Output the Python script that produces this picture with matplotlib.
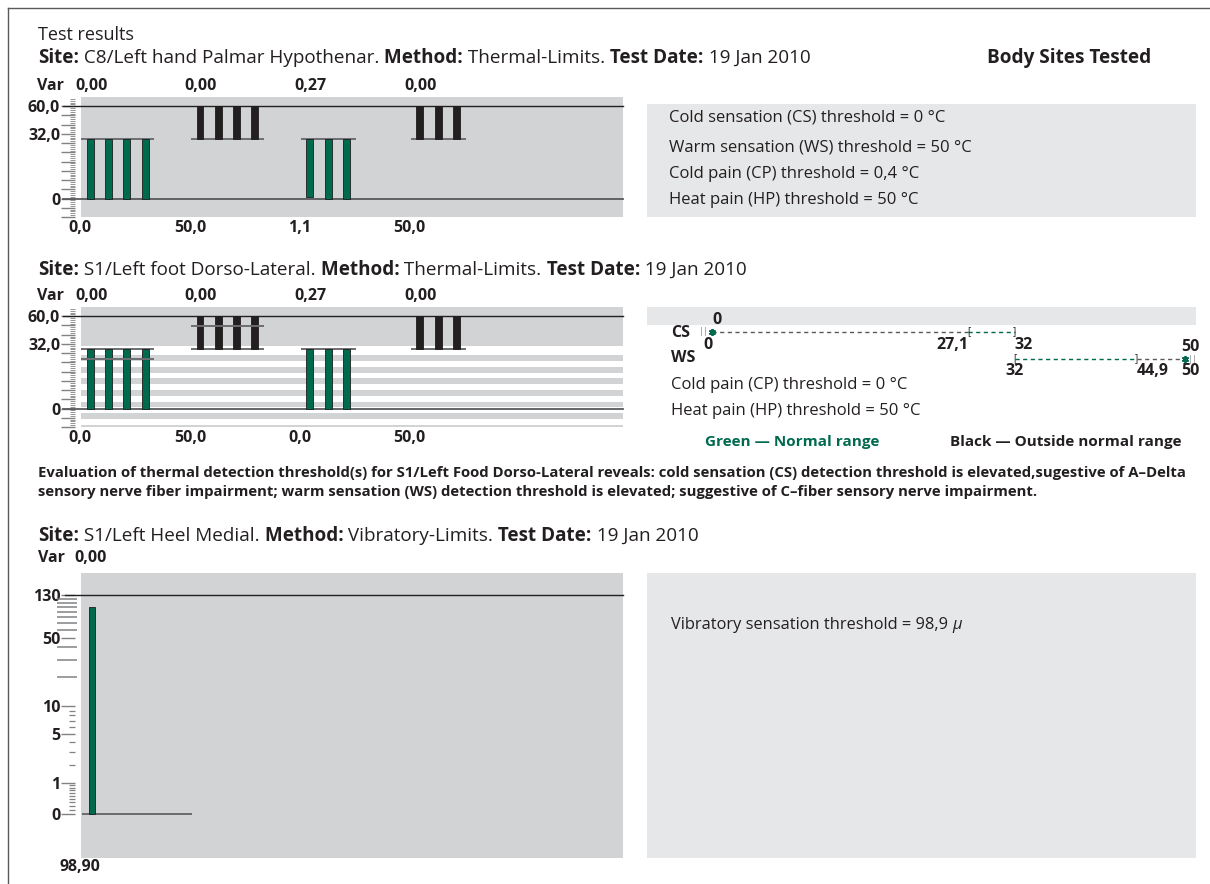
import numpy as np
import matplotlib.pyplot as plt
from matplotlib.patches import Rectangle
from matplotlib.lines import Line2D
from matplotlib.transforms import blended_transform_factory, ScaledTranslation

plt.rcParams['font.family'] = ['Open Sans', 'DejaVu Sans']

W, H = 1210, 884
INK = '#231f20'
GREEN = '#006a4e'
GRAY_PANEL = '#d1d3d4'
GRAY_BOX = '#e6e7e8'
TICK = '#808285'
LINE = '#58595b'

# ---------- data ----------
test_date = '19 Jan 2010'
sites = ['C8/Left hand Palmar Hypothenar.', 'S1/Left foot Dorso-Lateral.', 'S1/Left Heel Medial.']
methods = ['Thermal-Limits.', 'Thermal-Limits.', 'Vibratory-Limits.']

baseline_temp = 32.0
# trial end temperatures per group: CS, WS, CP, HP
trials_1 = [[0.0, 0.0, 0.0, 0.0], [50.0, 50.0, 50.0, 50.0], [1.1, 0.0, 0.0], [50.0, 50.0, 50.0]]
var_1 = ['0,00', '0,00', '0,27', '0,00']
trials_2 = [[0.0, 0.0, 0.0, 0.0], [50.0, 50.0, 50.0, 50.0], [0.0, 0.0, 0.0], [50.0, 50.0, 50.0]]
var_2 = ['0,00', '0,00', '0,27', '0,00']
normal_limits_2 = [27.1, 44.9, None, None]
group_colors = [GREEN, INK, GREEN, INK]

thermal_ticks = [0, 35, 50]
thermal_tick_labels = ['0', '32,0', '60,0']

summary_1 = ['Cold sensation (CS) threshold = 0 °C',
             'Warm sensation (WS) threshold = 50 °C',
             'Cold pain (CP) threshold = 0,4 °C',
             'Heat pain (HP) threshold = 50 °C']

cs_threshold = 0.0
cs_normal = [27.1, 32.0]
ws_threshold = 50.0
ws_normal = [32.0, 44.9]
summary_2 = ['Cold pain (CP) threshold = 0 °C',
             'Heat pain (HP) threshold = 50 °C']

evaluation = ['Evaluation of thermal detection threshold(s) for S1/Left Food Dorso-Lateral reveals: '
              'cold sensation (CS) detection threshold is elevated,sugestive of A\u2013Delta',
              'sensory nerve fiber impairment; warm sensation (WS) detection threshold is elevated; '
              'suggestive of C\u2013fiber sensory nerve impairment.']

vib_value = 98.9
vib_var = '0,00'
vib_ticks = [0, 1, 5, 10, 50, 130]
vib_minor = [0.1, 0.2, 0.3, 0.4, 0.5, 0.6, 0.7, 0.8, 0.9, 2, 3, 4, 6, 7, 8, 9]
vib_mid = [20, 30, 40, 60, 70, 80, 90, 100, 110, 120]


def fmt1(v):
    return f'{v:.1f}'.replace('.', ',')


def fmtg(v):
    return f'{v:g}'.replace('.', ',')


fig = plt.figure(figsize=(W / 100, H / 100), dpi=100)
renderer = fig.canvas.get_renderer()


def put(x, y, s, size=12, weight='normal', color=INK, ha='left', style='normal'):
    return fig.text(x / W, 1 - y / H, s, fontsize=size, fontweight=weight, color=color,
                    ha=ha, va='baseline', fontstyle=style)


def rich(x, y, parts, size=13.6):
    for s, w, st in parts:
        t = put(x, y, s, size, w, style=st)
        x += t.get_window_extent(renderer).width


def box(x0, y0, x1, y1, color):
    fig.add_artist(Rectangle((x0 / W, 1 - y1 / H), (x1 - x0) / W, (y1 - y0) / H,
                             transform=fig.transFigure, color=color, lw=0, zorder=0))


def axes_px(x0, y0, x1, y1):
    return fig.add_axes([x0 / W, 1 - y1 / H, (x1 - x0) / W, (y1 - y0) / H])


def header(y, i):
    rich(38, y, [('Site:', 'bold', 'normal'), (' ' + sites[i], 'normal', 'normal'),
                 (' Method:', 'bold', 'normal'), (' ' + methods[i], 'normal', 'normal'),
                 (' Test Date:', 'bold', 'normal'), (' ' + test_date, 'normal', 'normal')])


def style_left_axis(ax):
    for s in ax.spines.values():
        s.set_visible(False)
    ax.spines['left'].set_position(('outward', 4))
    ax.set_xticks([])
    ax.tick_params(axis='y', which='major', length=10, width=1, color=TICK, pad=1,
                   labelsize=11.5, labelcolor=INK)
    ax.tick_params(axis='y', which='minor', length=3.5, width=0.6, color=TICK)
    for lab in ax.get_yticklabels():
        lab.set_fontweight('bold')


def thermal_panel(top, trials, variances, normal_limits=None, striped=False):
    ax = axes_px(81, top, 623, top + 120)
    ax.set_xlim(-0.5, 29.1)
    ax.set_ylim(-10, 55)
    if striped:
        ax.axhspan(34, 55, color=GRAY_PANEL, lw=0, zorder=0)
        for t in np.arange(29, -12, -6.3):
            ax.axhspan(t - 3.2, t, color=GRAY_PANEL, lw=0, zorder=0)
    else:
        ax.set_facecolor(GRAY_PANEL)

    tr = blended_transform_factory(ax.transData, fig.transFigure)
    for g, vals in enumerate(trials):
        x0 = 6 * g
        xs = x0 + np.arange(len(vals))
        ax.bar(xs, np.array(vals) - baseline_temp, bottom=baseline_temp, width=0.38,
               color=group_colors[g], edgecolor='#1d1d1b', lw=0.6, zorder=3)
        ax.hlines(baseline_temp, x0 - 0.5, x0 + len(vals) - 0.5, color='#6d6e71', lw=1.4, zorder=2)
        if normal_limits and normal_limits[g] is not None:
            ax.hlines(normal_limits[g], x0 - 0.5, x0 + len(vals) - 0.5, color='#6d6e71',
                      lw=1.4, zorder=4)
        ax.text(x0 + 0.05, 1 - (top - 7) / H, variances[g], transform=tr, ha='center',
                va='baseline', fontsize=11.5, fontweight='bold', color=INK)
        ax.text(x0 - 0.55, 1 - (top + 135) / H, fmt1(vals[0]), transform=tr, ha='center',
                va='baseline', fontsize=11.5, fontweight='bold', color=INK)
    put(37, top - 7, 'Var', size=11.5, weight='bold')

    ax.axhline(50, xmin=-0.033, xmax=1, color=INK, lw=1, clip_on=False, zorder=2)
    ax.axhline(0, xmin=-0.033, xmax=1, color=LINE, lw=1.3, clip_on=False, zorder=2)

    major = np.arange(-10, 51, 5)
    labels = dict(zip(thermal_ticks, thermal_tick_labels))
    ax.set_yticks(major)
    ax.set_yticklabels([labels.get(int(v), '') for v in major])
    ax.set_yticks(np.arange(-10, 55, 1), minor=True)
    style_left_axis(ax)
    return ax


# ---------- frame and titles ----------
fig.add_artist(Line2D([8 / W, 8 / W], [0, 1 - 8 / H], color='#58595b', lw=1))
fig.add_artist(Line2D([8 / W, 1], [1 - 8 / H, 1 - 8 / H], color='#58595b', lw=1))

put(38, 40, 'Test results', size=13)
header(63, 0)
put(987, 63, 'Body Sites Tested', size=13.7, weight='bold')

# ---------- panel 1 ----------
thermal_panel(97, trials_1, var_1)
box(647, 104, 1196, 217, GRAY_BOX)
for s, y in zip(summary_1, [122, 152, 178, 204]):
    put(669, y, s)

# ---------- panel 2 ----------
header(275, 1)
thermal_panel(307, trials_2, var_2, normal_limits_2, striped=True)

axr = axes_px(647, 300, 1196, 455)
axr.axis('off')
axr.set_xlim(-6.87, 51.16)
axr.set_ylim(455, 300)
axr.axhspan(307, 325, color=GRAY_BOX, lw=0, zorder=0)
dash = (0, (3, 2.5))


def shift(dx):
    return axr.transData + ScaledTranslation(dx / 100, 0, fig.dpi_scale_trans)


# CS row
y = 332
axr.plot([cs_threshold, cs_normal[0]], [y, y], color=LINE, ls=dash, lw=1)
axr.plot(cs_normal, [y, y], color=GREEN, ls=dash, lw=1)
axr.text(cs_normal[0], y, '[', ha='center', va='center', fontsize=7, color=INK)
axr.text(cs_normal[1], y, ']', ha='center', va='center', fontsize=7, color=INK)
axr.text(cs_threshold, y, '||', ha='right', va='center', fontsize=6.5, color=TICK,
         transform=shift(-3))
axr.plot(cs_threshold, y, marker=(6, 2, 0), ms=5, mew=1.3, color=GREEN)
axr.text(cs_threshold, 320, fmtg(cs_threshold), ha='left', va='center', fontsize=11.5,
         fontweight='bold', color=INK)
axr.text(cs_threshold, 345, fmtg(cs_threshold), ha='center', va='center', fontsize=11.5,
         fontweight='bold', color=INK, transform=shift(-4))
axr.text(cs_normal[0], 345, fmtg(cs_normal[0]), ha='right', va='center', fontsize=11.5,
         fontweight='bold', color=INK)
axr.text(cs_normal[1], 345, fmtg(cs_normal[1]), ha='left', va='center', fontsize=11.5,
         fontweight='bold', color=INK)

# WS row
y = 359
axr.plot(ws_normal, [y, y], color=GREEN, ls=dash, lw=1)
axr.plot([ws_normal[1], ws_threshold], [y, y], color=LINE, ls=dash, lw=1)
axr.text(ws_normal[0], y, '[', ha='center', va='center', fontsize=7, color=INK)
axr.text(ws_normal[1], y, ']', ha='center', va='center', fontsize=7, color=INK)
axr.text(ws_threshold, y, '||', ha='left', va='center', fontsize=6.5, color=TICK,
         transform=shift(3))
axr.plot(ws_threshold, y, marker=(6, 2, 0), ms=5, mew=1.3, color=GREEN)
axr.text(ws_threshold, 347, fmtg(ws_threshold), ha='center', va='center', fontsize=11.5,
         fontweight='bold', color=INK, transform=shift(5))
axr.text(ws_normal[0], 371, fmtg(ws_normal[0]), ha='center', va='center', fontsize=11.5,
         fontweight='bold', color=INK)
axr.text(ws_normal[1], 371, fmtg(ws_normal[1]), ha='left', va='center', fontsize=11.5,
         fontweight='bold', color=INK)
axr.text(ws_threshold, 371, fmtg(ws_threshold), ha='center', va='center', fontsize=11.5,
         fontweight='bold', color=INK, transform=shift(5))

put(671, 337, 'CS', size=11.5, weight='bold')
put(671, 362, 'WS', size=11.5, weight='bold')
for s, yy in zip(summary_2, [389, 415]):
    put(671, yy, s)
put(705, 446, 'Green \u2014 Normal range', size=11, weight='bold', color=GREEN)
put(950, 446, 'Black \u2014 Outside normal range', size=11, weight='bold')

for s, yy in zip(evaluation, [477, 496]):
    put(38, yy, s, size=10.75, weight='bold')

# ---------- panel 3 ----------
header(541, 2)
put(38, 562, 'Var', size=11.5, weight='bold')
put(74, 562, vib_var, size=11.5, weight='bold')

ax3 = axes_px(81, 573, 623, 858)
ax3.set_facecolor(GRAY_PANEL)
ax3.set_yscale('function', functions=(lambda v: np.log10(1 + v), lambda v: 10 ** v - 1))
ax3.set_ylim(-0.625, 214)
ax3.set_xlim(-0.6, 29.0)
ax3.bar([0], [vib_value], width=0.33, color=GREEN, edgecolor='#1d1d1b', lw=0.6, zorder=3)
ax3.hlines(0, -0.55, 5.46, color=LINE, lw=1.2, zorder=2)
ax3.axhline(130, xmin=-0.03, xmax=1, color=INK, lw=1, clip_on=False, zorder=2)
ax3.set_yticks(vib_ticks)
ax3.set_yticklabels([str(v) for v in vib_ticks])
ax3.set_yticks(vib_minor, minor=True)
ax3.yaxis.set_minor_formatter(plt.NullFormatter())
style_left_axis(ax3)
ax3.tick_params(axis='y', which='minor', length=4, width=0.9)
# longer rungs between 10 and 130
ax3.hlines(vib_mid, -0.045, -0.008, transform=ax3.get_yaxis_transform(), color=TICK,
           lw=1.1, clip_on=False)
put(80, 871, fmt1(vib_value) + '0', size=11.5, ha='center', weight='bold')

box(647, 573, 1196, 858, GRAY_BOX)
rich(671, 629, [('Vibratory sensation threshold = ' + fmtg(vib_value) + ' ', 'normal', 'normal'),
                ('\u03bc', 'normal', 'italic')], size=11.8)

fig.savefig('out.png', dpi=100)
